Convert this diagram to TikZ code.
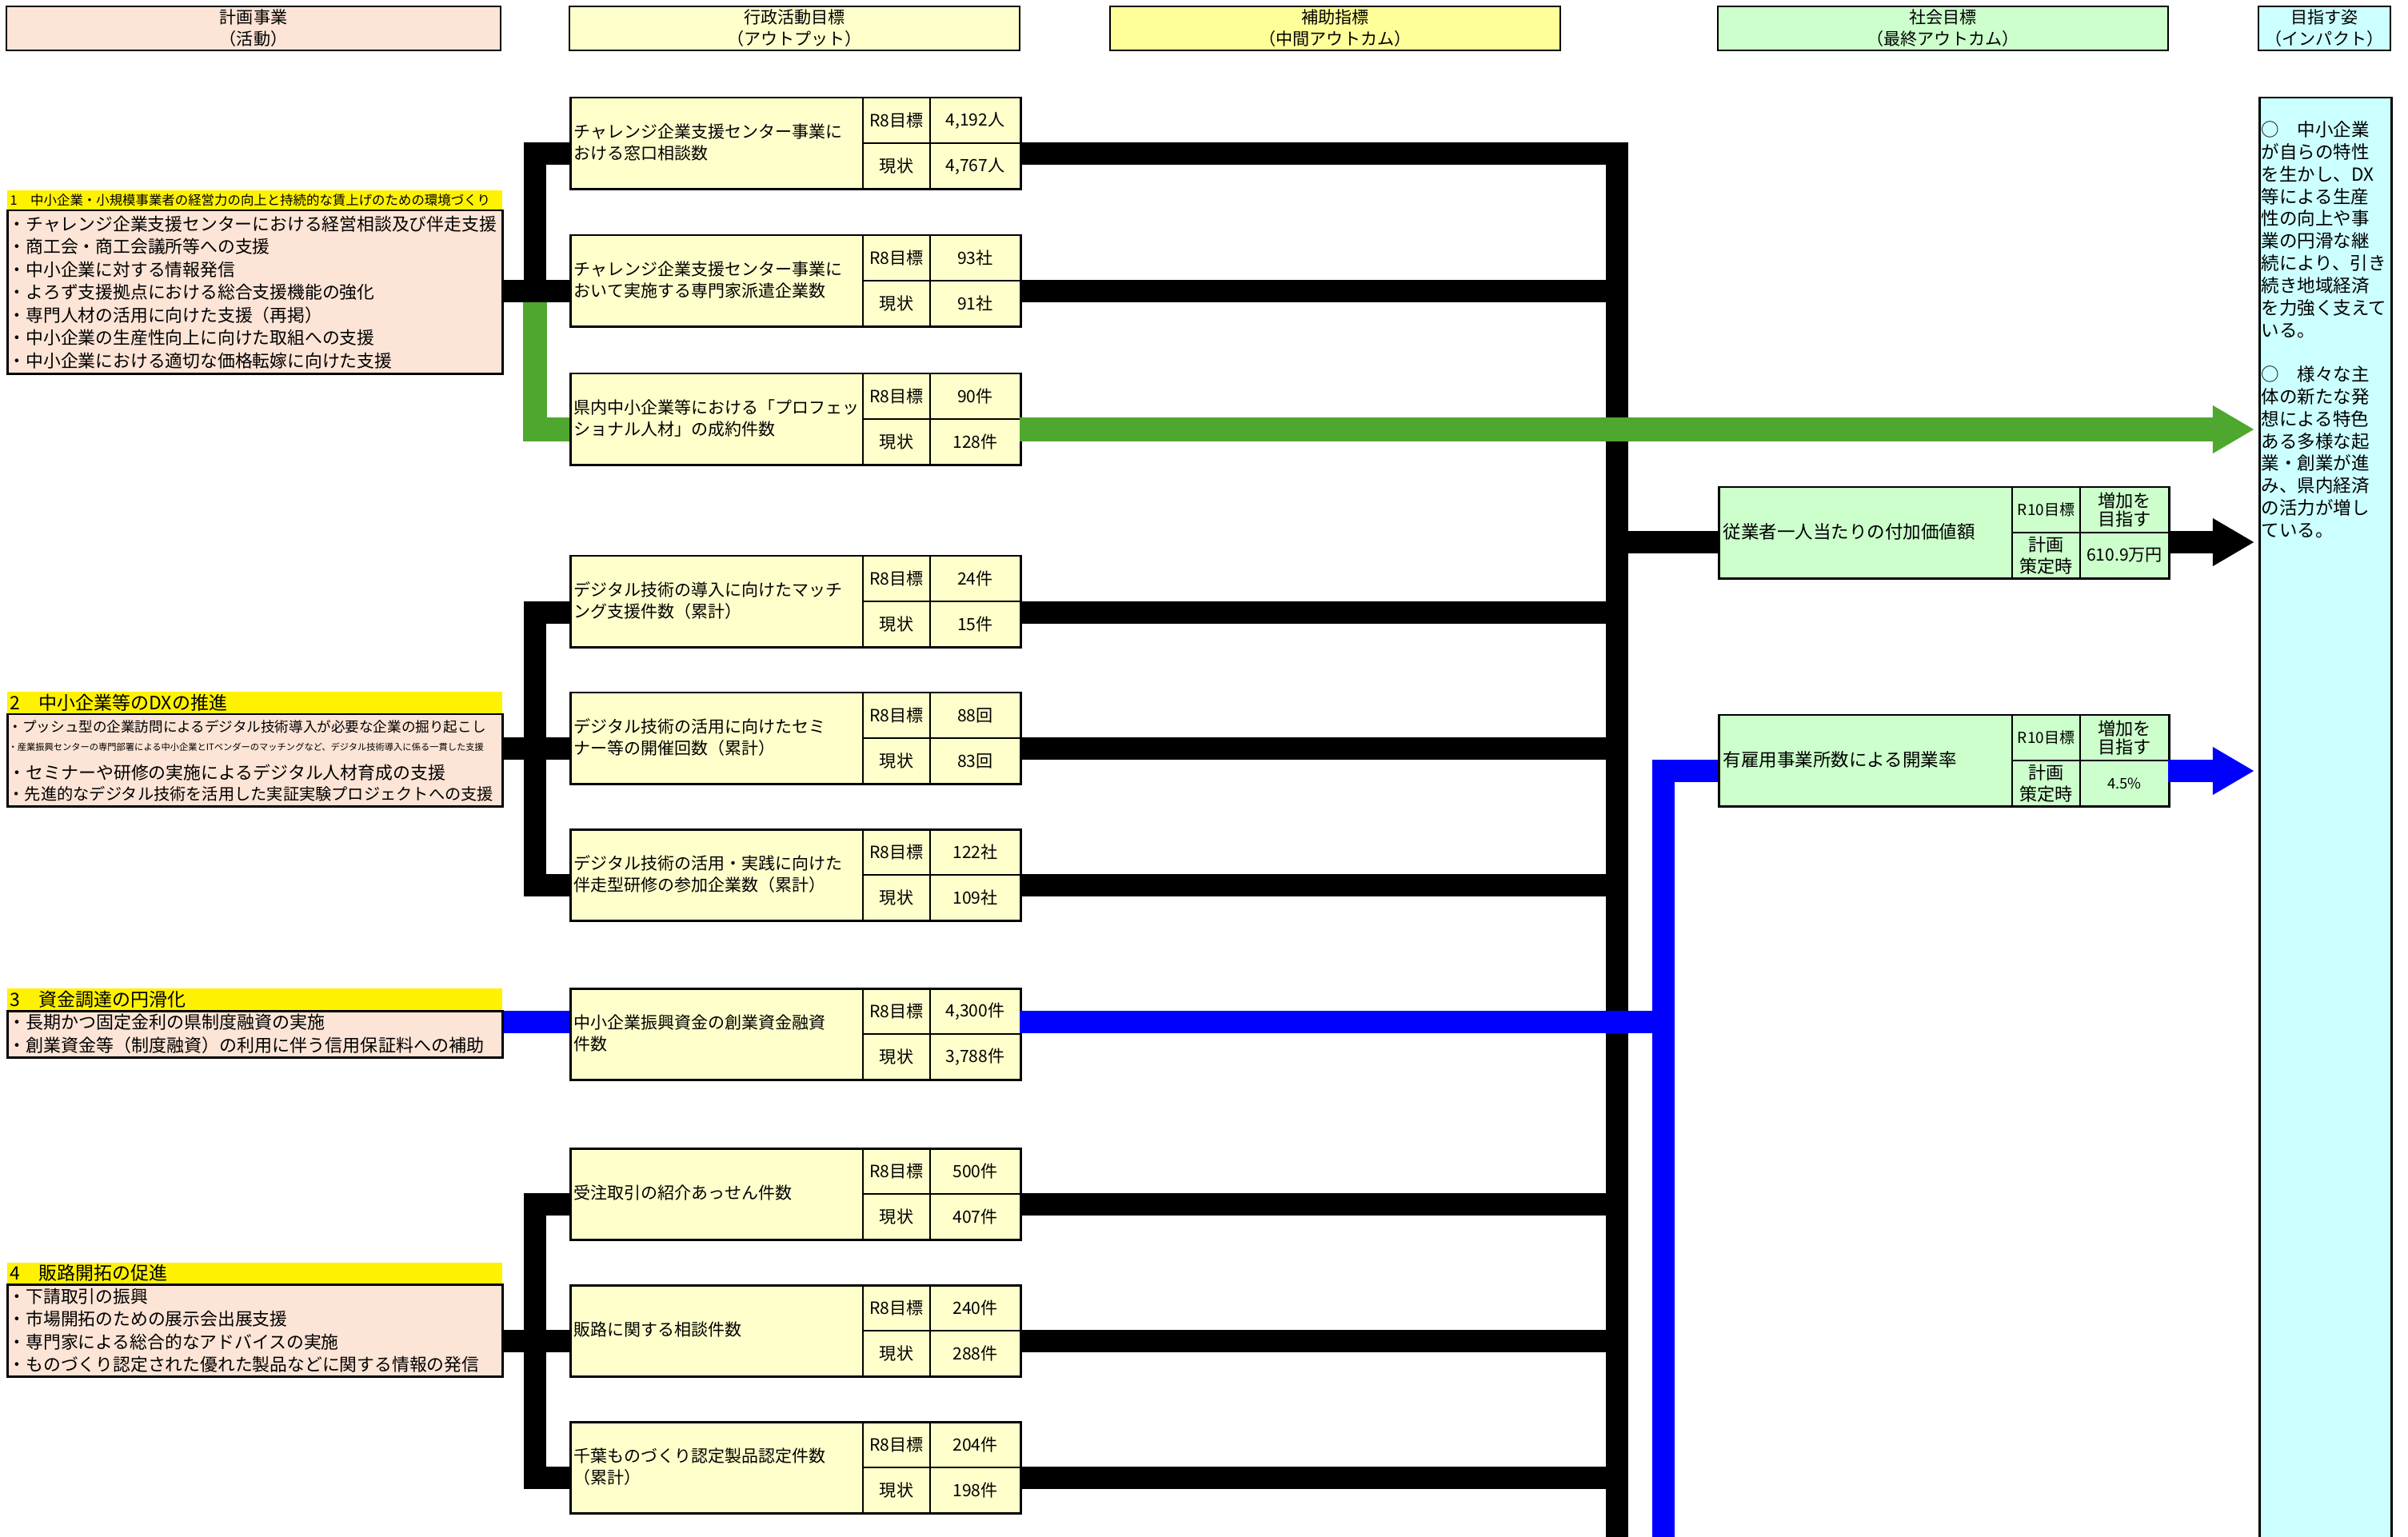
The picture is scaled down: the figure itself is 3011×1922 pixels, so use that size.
\documentclass[tikz,border=0pt]{standalone}
\usepackage{fontspec}
\setmainfont{Noto Sans CJK JP}
\usetikzlibrary{arrows.meta}

\definecolor{pinkbg}{HTML}{FCE4D6}
\definecolor{lemon}{HTML}{FFFFCC}
\definecolor{hdryel}{HTML}{FFFF99}
\definecolor{mint}{HTML}{CCFFCC}
\definecolor{skyc}{HTML}{CCFFFF}
\definecolor{leaf}{HTML}{4EA72E}
\definecolor{pureblue}{HTML}{0000FF}

\newcommand\fsz[2]{\fontsize{#1pt}{#2pt}\selectfont}

\tikzset{
  hdr/.style={draw, line width=0.025cm, minimum height=0.55cm, inner sep=0pt, align=center, font=\fsz{6.0}{7.7}},
  ttl/.style={fill=yellow, anchor=north west, minimum width=6.19cm, inner sep=0pt},
  ttltxt/.style={anchor=west, inner sep=0pt, xshift=0.04cm},
  pbox/.style={draw, line width=0.025cm, fill=pinkbg, anchor=north west, minimum width=6.19cm, inner sep=0pt},
  ptxt/.style={anchor=west, align=left, inner sep=0pt, xshift=0.02cm},
  kpi/.style={draw, line width=0.025cm, fill=lemon, minimum width=5.63cm, minimum height=1.14cm, inner sep=0pt},
  kpitxt/.style={anchor=west, align=left, inner sep=0pt, font=\fsz{5.97}{7.68}},
  kcell/.style={draw, line width=0.02cm, minimum height=0.57cm, inner sep=0pt, font=\fsz{6.0}{7}},
  imp/.style={draw, line width=0.025cm, fill=skyc, inner sep=0pt},
  blk/.style={line width=0.28cm, black},
  grn/.style={line width=0.29cm, leaf},
  blu/.style={line width=0.28cm, pureblue},
  fat/.style={-{Triangle[length=0.52cm,width=0.56cm]}}
}

% output box: name, top, text, target, now, line offset
\newcommand\kpibox[6]{%
  \node[kpi, anchor=north west] (#1) at (712,#2) {};
  \node[kpitxt] (#1t) at (717,#2+57) {#3};
  \node[kcell, minimum width=0.84cm, anchor=north west] (#1a) at (1078,#2) {R8目標};
  \node[kcell, minimum width=0.84cm, anchor=north west] (#1b) at (1078,#2+57) {現状};
  \node[kcell, minimum width=1.13cm, anchor=north west] (#1c) at (1162,#2) {#4};
  \node[kcell, minimum width=1.13cm, anchor=north west] (#1d) at (1162,#2+57) {#5};
  \coordinate (#1i) at (712,#2+#6);
  \coordinate (#1o) at (1275,#2+#6);
}

% outcome box: name, top, text, value, line offset
\newcommand\goalbox[5]{%
  \node[kpi, fill=mint, anchor=north west] (#1) at (2148,#2) {};
  \node[kpitxt, font=\fsz{6.4}{7.7}] (#1t) at (2154,#2+57) {#3};
  \node[kcell, minimum width=0.85cm, anchor=north west, font=\fsz{5.4}{6}] (#1a) at (2515,#2) {R10目標};
  \node[kcell, minimum width=0.85cm, anchor=north west, align=center, font=\fsz{6.3}{7.6}] (#1b) at (2515,#2+57) {計画\\策定時};
  \node[kcell, minimum width=1.11cm, anchor=north west, align=center, font=\fsz{6.3}{6.4}] (#1c) at (2600,#2) {増加を\\目指す};
  \node[kcell, minimum width=1.11cm, anchor=north west] (#1d) at (2600,#2+57) {#4};
  \coordinate (#1i) at (2148,#2+#5);
  \coordinate (#1o) at (2711,#2+#5);
}

\begin{document}
\begin{tikzpicture}[x=0.01cm, y=-0.01cm]
\useasboundingbox (0,0) rectangle (3011,1922);
\fill[white] (0,0) rectangle (3011,1922);

% column heads
\node[hdr, fill=pinkbg, minimum width=6.18cm] (h1) at (317,35.5) {計画事業\\（活動）};
\node[hdr, fill=lemon, minimum width=5.63cm] (h2) at (993.5,35.5) {行政活動目標\\（アウトプット）};
\node[hdr, fill=hdryel, minimum width=5.63cm] (h3) at (1669.5,35.5) {補助指標\\（中間アウトカム）};
\node[hdr, fill=mint, minimum width=5.63cm] (h4) at (2429.5,35.5) {社会目標\\（最終アウトカム）};
\node[hdr, fill=skyc, minimum width=1.65cm] (h5) at (2906.5,35.5) {目指す姿\\（インパクト）};

% plan items
\node[ttl, minimum height=0.25cm] (t1) at (8,237) {};
\node[ttltxt, font=\fsz{4.67}{5.5}] (t1x) at (t1.west) {1　中小企業・小規模事業者の経営力の向上と持続的な賃上げのための環境づくり};
\node[pbox, minimum height=2.04cm] (p1) at (8,262) {};
\node[ptxt, font=\fsz{6.2}{8.1}] (p1x) at (p1.west) {・チャレンジ企業支援センターにおける経営相談及び伴走支援\\・商工会・商工会議所等への支援\\・中小企業に対する情報発信\\・よろず支援拠点における総合支援機能の強化\\・専門人材の活用に向けた支援（再掲）\\・中小企業の生産性向上に向けた取組への支援\\・中小企業における適切な価格転嫁に向けた支援};

\node[ttl, minimum height=0.28cm] (t2) at (8,864) {};
\node[ttltxt, font=\fsz{6.54}{7.5}] (t2x) at (t2.west) {2　中小企業等のDXの推進};
\node[pbox, minimum height=1.15cm] (p2) at (8,892) {};
\node[ptxt, font=\fsz{5.0}{6}] (p2a) at (8,909) {・プッシュ型の企業訪問によるデジタル技術導入が必要な企業の掘り起こし};
\node[ptxt, font=\fsz{3.2}{4}] (p2b) at (8,934) {・産業振興センターの専門部署による中小企業とITベンダーのマッチングなど、デジタル技術導入に係る一貫した支援};
\node[ptxt, font=\fsz{6.23}{7}] (p2c) at (8,966) {・セミナーや研修の実施によるデジタル人材育成の支援};
\node[ptxt, font=\fsz{5.75}{7}] (p2d) at (8,993) {・先進的なデジタル技術を活用した実証実験プロジェクトへの支援};

\node[ttl, minimum height=0.28cm] (t3) at (8,1235) {};
\node[ttltxt, font=\fsz{6.54}{7.5}] (t3x) at (t3.west) {3　資金調達の円滑化};
\node[pbox, minimum height=0.58cm] (p3) at (8,1263) {};
\node[ptxt, font=\fsz{6.26}{8.25}] (p3x) at (p3.west) {・長期かつ固定金利の県制度融資の実施\\・創業資金等（制度融資）の利用に伴う信用保証料への補助};

\node[ttl, minimum height=0.27cm] (t4) at (8,1578) {};
\node[ttltxt, font=\fsz{6.54}{7.5}] (t4x) at (t4.west) {4　販路開拓の促進};
\node[pbox, minimum height=1.15cm] (p4) at (8,1605) {};
\node[ptxt, font=\fsz{6.2}{8.1}] (p4x) at (p4.west) {・下請取引の振興\\・市場開拓のための展示会出展支援\\・専門家による総合的なアドバイスの実施\\・ものづくり認定された優れた製品などに関する情報の発信};

% outputs
\kpibox{k1}{121}{チャレンジ企業支援センター事業に\\おける窓口相談数}{4,192人}{4,767人}{71}
\kpibox{k2}{293}{チャレンジ企業支援センター事業に\\おいて実施する専門家派遣企業数}{93社}{91社}{71}
\kpibox{k3}{466}{県内中小企業等における「プロフェッ\\ショナル人材」の成約件数}{90件}{128件}{71}
\kpibox{k4}{694}{デジタル技術の導入に向けたマッチ\\ング支援件数（累計）}{24件}{15件}{72}
\kpibox{k5}{865}{デジタル技術の活用に向けたセミ\\ナー等の開催回数（累計）}{88回}{83回}{71}
\kpibox{k6}{1036}{デジタル技術の活用・実践に向けた\\伴走型研修の参加企業数（累計）}{122社}{109社}{71}
\kpibox{k7}{1235}{中小企業振興資金の創業資金融資\\件数}{4,300件}{3,788件}{43}
\kpibox{k8}{1435}{受注取引の紹介あっせん件数}{500件}{407件}{71}
\kpibox{k9}{1606}{販路に関する相談件数}{240件}{288件}{71}
\kpibox{k10}{1777}{千葉ものづくり認定製品認定件数\\（累計）}{204件}{198件}{71}

% outcomes
\goalbox{s1}{608}{従業者一人当たりの付加価値額}{610.9万円}{70}
\goalbox{s2}{893}{有雇用事業所数による開業率}{{\fsz{5.2}{6}4.5\%}}{71}

% impact
\node[imp, minimum width=1.65cm, minimum height=18.2cm, anchor=north west] (imp) at (2824,121) {};
\node[anchor=north west, align=left, inner sep=0pt, font=\fsz{6.4}{7.91}] (impx) at (2827,151) {○　中小企業\\が自らの特性\\を生かし、DX\\等による生産\\性の向上や事\\業の円滑な継\\続により、引き\\続き地域経済\\を力強く支えて\\いる。\\[7.91pt]○　様々な主\\体の新たな発\\想による特色\\ある多様な起\\業・創業が進\\み、県内経済\\の活力が増し\\ている。};

\coordinate (lbus) at (669,0);
\coordinate (rbus) at (2022,1930);
\coordinate (bbus) at (2080,1930);
\coordinate (tipx) at (2819,0);

% left connectors
\draw[grn] (lbus |- k2i) |- (k3i);
\draw[blk] (k1i) -| (lbus |- k2i) -- (k2i);
\draw[blk] (p1.east |- k2i) -- (k2i);
\draw[blk] (k4i) -| (lbus |- k6i) -- (k6i);
\draw[blk] (p2.east |- k5i) -- (k5i);
\draw[blu] (p3.east |- k7i) -- (k7i);
\draw[blk] (k8i) -| (lbus |- k10i) -- (k10i);
\draw[blk] (p4.east |- k9i) -- (k9i);

% right connectors
\draw[blk] (k1o) -| (rbus);
\draw[blk] (k2o) -- (k2o -| rbus);
\draw[blk] (k4o) -- (k4o -| rbus);
\draw[blk] (k5o) -- (k5o -| rbus);
\draw[blk] (k6o) -- (k6o -| rbus);
\draw[blk] (k8o) -- (k8o -| rbus);
\draw[blk] (k9o) -- (k9o -| rbus);
\draw[blk] (k10o) -- (k10o -| rbus);
\draw[blk] (rbus |- s1i) -- (s1i);
\draw[blk, fat] (s1o) -- (tipx |- s1o);
\draw[blu] (s2i) -| (bbus);
\draw[blu] (k7o) -- (k7o -| bbus);
\draw[blu, fat] (s2o) -- (tipx |- s2o);
\draw[grn, fat] (k3o) -- (tipx |- k3o);
\end{tikzpicture}
\end{document}
